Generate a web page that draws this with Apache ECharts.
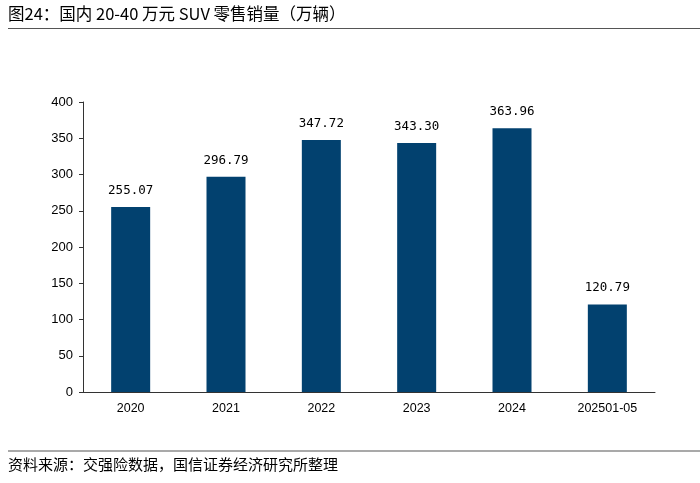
<!DOCTYPE html>
<html><head><meta charset="utf-8">
<script src="https://cdn.jsdelivr.net/npm/echarts@6/dist/echarts.min.js"></script>
<style>html,body{margin:0;padding:0;background:#fff;}#c{width:700px;height:483px;}</style>
</head><body><div id="c"></div>
<script>
const categories = ['2020','2021','2022','2023','2024','202501-05'];
const sales = [255.07, 296.79, 347.72, 343.30, 363.96, 120.79];
const yTicks = {min:0, max:400, interval:50};
const titleText = '图24：国内 20-40 万元 SUV 零售销量（万辆）';
const sourceText = '资料来源：交强险数据，国信证券经济研究所整理';

const chart = echarts.init(document.getElementById('c'));
chart.setOption({
  backgroundColor:'#fff',
  animation:false,
  graphic:[
    {type:'text', left:8, top:5, style:{text:titleText, font:'16.5px "Noto Sans CJK SC"', fill:'#000'}},
    {type:'line', shape:{x1:8,y1:28.5,x2:700,y2:28.5}, style:{stroke:'#555', lineWidth:1.2}},
    {type:'line', shape:{x1:8,y1:451,x2:700,y2:451}, style:{stroke:'#555', lineWidth:1.2}},
    {type:'text', left:8, top:457, style:{text:sourceText, font:'15px "Noto Sans CJK SC"', fill:'#000'}}
  ],
  grid:{left:83, right:45, top:102, bottom:91},
  xAxis:{type:'category', data:categories,
    axisLine:{lineStyle:{color:'#333', width:1}},
    axisTick:{inside:true, length:5, lineStyle:{color:'#333'}},
    axisLabel:{color:'#000', fontSize:12.5, fontFamily:'Liberation Sans', margin:10}},
  yAxis:{type:'value', min:yTicks.min, max:yTicks.max, interval:yTicks.interval,
    splitLine:{show:false},
    axisLine:{show:true, lineStyle:{color:'#333', width:1}},
    axisTick:{show:true, length:4, lineStyle:{color:'#333'}},
    axisLabel:{color:'#000', fontSize:13, fontFamily:'Liberation Sans', margin:10}},
  series:[{type:'bar', data:sales, barWidth:39,
    itemStyle:{color:'#02416f'},
    label:{show:true, position:'top', distance:10, color:'#000', fontSize:12.5, fontFamily:'DejaVu Sans Mono',
      formatter:p=>p.value.toFixed(2)}}]
});
</script></body></html>
